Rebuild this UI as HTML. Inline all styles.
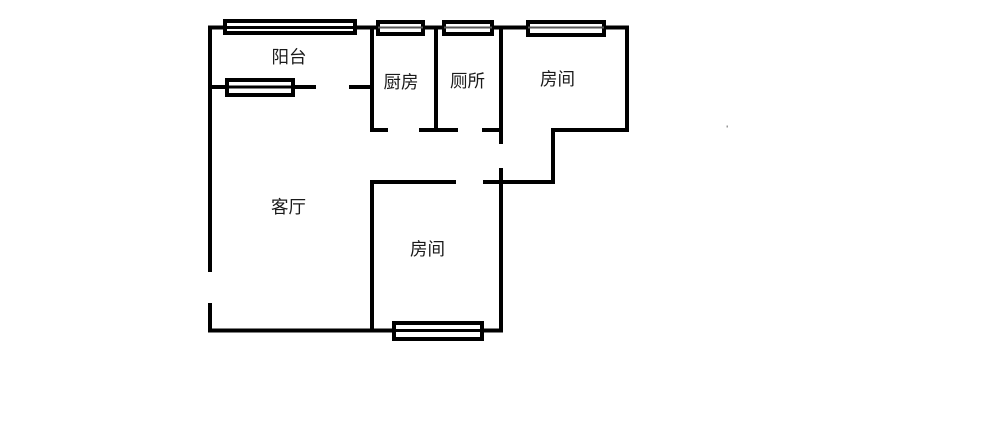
<!DOCTYPE html>
<html>
<head>
<meta charset="utf-8">
<style>
html,body{margin:0;padding:0;background:#fff;width:1000px;height:444px;overflow:hidden}
svg{display:block}
text{font-family:"Liberation Sans","Noto Sans CJK SC",sans-serif;font-size:17.5px;fill:#1a1a1a;text-anchor:middle;dominant-baseline:central}
</style>
</head>
<body>
<svg width="1000" height="444" viewBox="0 0 1000 444" xmlns="http://www.w3.org/2000/svg">
<rect width="1000" height="444" fill="#fff"/>
<g stroke="#000" stroke-width="4" fill="none">
  <path d="M210 272V27.5H627V130H553V182H483"/>
  <path d="M210 303V330.5H501V168"/>
  <path d="M501 144V27.5"/>
  <path d="M372 330.5V182H456"/>
  <path d="M372 27.5V130H388"/>
  <path d="M419 130H458"/>
  <path d="M482 130H501"/>
  <path d="M436 27.5V130"/>
  <path d="M210 87H316"/>
  <path d="M349 87H372"/>
</g>
<g fill="#fff" stroke="#000" stroke-width="4">
  <rect x="225" y="21" width="130" height="12"/>
  <rect x="378" y="22" width="45" height="12"/>
  <rect x="444" y="22" width="48" height="12"/>
  <rect x="528" y="22" width="76" height="13"/>
  <rect x="227" y="80" width="66" height="15"/>
  <rect x="394" y="323" width="88" height="16"/>
</g>
<g stroke="#000" stroke-width="3" fill="none">
  <path d="M225 27.5H355"/>
  <path d="M227 87H293"/>
  <path d="M394 330.5H482"/>
</g>
<g stroke="#555" stroke-width="2" fill="none">
  <path d="M378 27.5H423"/>
  <path d="M444 27.5H492"/>
  <path d="M528 27.5H604"/>
</g>
<rect x="726.5" y="125.5" width="1.5" height="2" fill="#999"/>
<text x="289" y="57">阳台</text>
<text x="401" y="82">厨房</text>
<text x="467.5" y="81">厕所</text>
<text x="557.5" y="79">房间</text>
<text x="288.5" y="207">客厅</text>
<text x="427.5" y="249">房间</text>
</svg>
</body>
</html>
